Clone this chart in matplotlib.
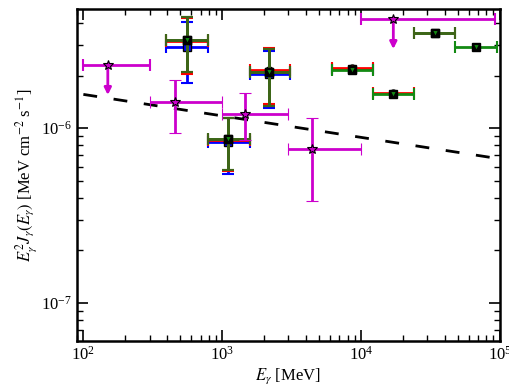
import numpy as np
import matplotlib
matplotlib.use("Agg")
import matplotlib.pyplot as plt

plt.rcParams['mathtext.fontset'] = 'stix'
plt.rcParams['font.family'] = ['Liberation Serif', 'DejaVu Serif']

# ---- data ----
# magenta star points (some upper limits)
E_mag = [150, 455, 1455, 4430, 17100]
E_mag_lo = [100, 300, 1000, 3000, 10000]
E_mag_hi = [300, 1000, 3000, 10000, 93000]
F_mag = [2.31e-6, 1.41e-6, 1.21e-6, 7.59e-7, 4.23e-6]
F_mag_lo = [np.nan, 9.36e-7, 8.54e-7, 3.84e-7, np.nan]
F_mag_hi = [np.nan, 1.89e-6, 1.58e-6, 1.14e-6, np.nan]
UL_mag = [True, False, False, False, True]

# binned spectral points
E_c = [556, 1110, 2190, 8650, 17100, 34000, 67800]
E_lo = [395, 787, 1574, 6140, 12200, 24200, 47900]
E_hi = [787, 1574, 3100, 12200, 24200, 47900, 95000]

F_blue = [2.90e-6, 8.35e-7, 2.04e-6, 2.17e-6]
F_blue_lo = [1.81e-6, 5.46e-7, 1.31e-6, np.nan]
F_blue_hi = [4.03e-6, 1.15e-6, 2.77e-6, np.nan]

F_red = [3.15e-6, 8.60e-7, 2.15e-6, 2.22e-6, 1.59e-6]
F_red_lo = [2.05e-6, 5.70e-7, 1.37e-6, np.nan, np.nan]
F_red_hi = [4.25e-6, 1.14e-6, 2.88e-6, np.nan, np.nan]

F_green = [3.21e-6, 8.73e-7, 2.10e-6, 2.14e-6, 1.57e-6, 3.49e-6, 2.92e-6]
F_green_lo = [2.10e-6, 5.75e-7, 1.34e-6, np.nan, np.nan, np.nan, np.nan]
F_green_hi = [4.33e-6, 1.14e-6, 2.82e-6, np.nan, np.nan, np.nan, np.nan]

olive_idx = [0, 1, 2, 5]

# power-law line
E_line = [100, 1e5]
F_line = [1.56e-6, 6.68e-7]

# ---- plot ----
fig = plt.figure(figsize=(5.1, 3.92), dpi=100)
ax = fig.add_axes([0.151, 0.130, 0.829, 0.847])
ax.set_xscale('log')
ax.set_yscale('log')

ax.plot(E_line, F_line, color='k', lw=2.0, dashes=(5, 6), zorder=1)

def draw(i, F, Flo, Fhi, color, marker, mfc, ms, z):
    xe = [[E_c[i] - E_lo[i]], [E_hi[i] - E_c[i]]]
    if np.isnan(Flo[i]):
        ye = None
    else:
        ye = [[F[i] - Flo[i]], [Fhi[i] - F[i]]]
    ax.errorbar([E_c[i]], [F[i]], xerr=xe, yerr=ye, fmt=marker, color=color,
                mfc=mfc, mec='k', ms=ms, elinewidth=2.0, capsize=4, capthick=1.5,
                zorder=z)

for i in range(len(F_blue)):
    draw(i, F_blue, F_blue_lo, F_blue_hi, 'blue', 's', 'blue', 6, 2)
for i in range(len(F_red)):
    draw(i, F_red, F_red_lo, F_red_hi, 'red', 'o', 'red', 5, 3)
for i in range(len(F_green)):
    draw(i, F_green, F_green_lo, F_green_hi, '#138a13', 's', 'k', 6, 4)
for i in olive_idx:
    draw(i, F_green, F_green_lo, F_green_hi, '#3f6418', 's', 'k', 6, 5)
for i in range(len(F_green)):
    ax.plot([E_c[i]], [F_green[i]], 'v', mfc='#138a13', mec='k', ms=5, mew=0.8, zorder=6)

mag = '#cc00cc'
for i in range(len(E_mag)):
    xe = [[E_mag[i] - E_mag_lo[i]], [E_mag_hi[i] - E_mag[i]]]
    if UL_mag[i]:
        ax.errorbar([E_mag[i]], [F_mag[i]], xerr=xe, fmt='none', ecolor=mag,
                    elinewidth=2.0, capsize=4, capthick=1.5, zorder=7)
        ax.annotate('', xy=(E_mag[i], F_mag[i] * 0.67), xytext=(E_mag[i], F_mag[i]),
                    arrowprops=dict(arrowstyle='-|>', color=mag, lw=2.0,
                                    mutation_scale=10, shrinkA=0, shrinkB=0),
                    zorder=7)
        ax.plot([E_mag[i]], [F_mag[i]], '*', mfc=mag, mec='k', ms=7, mew=0.8, zorder=8)
    else:
        ye = [[F_mag[i] - F_mag_lo[i]], [F_mag_hi[i] - F_mag[i]]]
        ax.errorbar([E_mag[i]], [F_mag[i]], xerr=xe, yerr=ye, fmt='*', color=mag,
                    mfc=mag, mec='k', ms=7, mew=0.8, elinewidth=2.0, capsize=4,
                    capthick=1.5, zorder=7)

ax.set_xlim(90, 1e5)
ax.set_ylim(6.07e-8, 4.8e-6)

for s in ax.spines.values():
    s.set_linewidth(1.8)
ax.tick_params(which='both', direction='in', top=True, right=True, labelsize=12)
ax.tick_params(which='major', length=8, width=1.2)
ax.tick_params(which='minor', length=4, width=1.0)

ax.set_xlabel(r'$E_\gamma$ [MeV]', fontsize=12, labelpad=2)
ax.set_ylabel(r'$E_\gamma^2 J_\gamma(E_\gamma)$ [MeV cm$^{-2}$ s$^{-1}$]', fontsize=12, labelpad=2)

fig.savefig('out.png', dpi=100)
